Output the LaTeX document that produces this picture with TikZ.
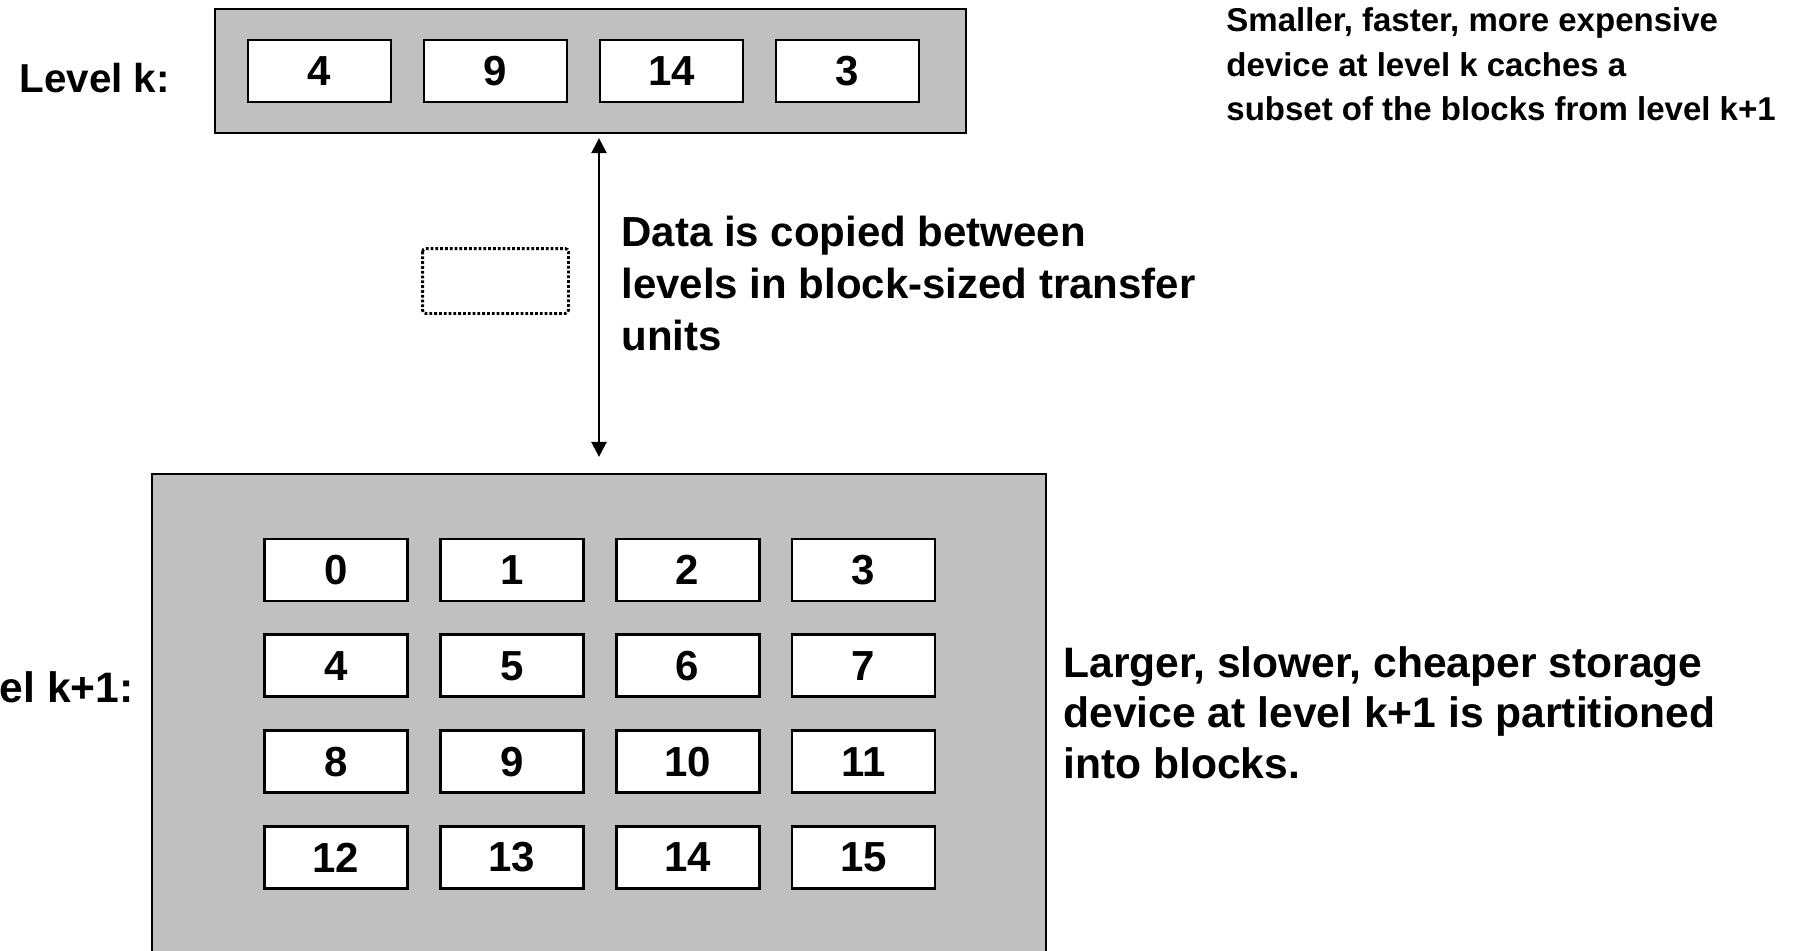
\documentclass[tikz,border=0pt]{standalone}
\usepackage{fontspec}
\setmainfont{Liberation Sans}
\usepackage{tikz}
\usetikzlibrary{arrows.meta,calc}
\definecolor{devgray}{RGB}{192,192,192}

\begin{document}
\begin{tikzpicture}[x=0.5pt, y=-0.5pt,
    blk/.style={draw, line width=1.4pt, fill=white, minimum width=71.5pt, minimum height=31pt, inner sep=0pt, font=\fontsize{21}{25}\selectfont\bfseries},
    dev/.style={draw, line width=1.1pt, fill=devgray, inner sep=0pt},
    lbl/.style={inner sep=0pt, font=\fontsize{21.3}{25.2}\selectfont\bfseries},
    >={Triangle[length=7.5pt,width=7.5pt]}]
  \useasboundingbox (0,0) rectangle (1794,950);
  \pgfmathsetmacro{\kpitch}{176}
  \pgfmathsetmacro{\xpitch}{175.8}
  \pgfmathsetmacro{\ypitch}{95.8}

      \node[dev, minimum width=375.5pt, minimum height=62pt] (levk) at (590.5,71) {};
      \node[dev, minimum width=447pt, minimum height=263pt] (levkone) at (599,737) {};

  \foreach \v [count=\i from 0] in {4,9,14,3}{
      \node[blk] (k\i) at ({319.5+\i*\kpitch},71) {\v};
    };

  \foreach \r in {0,...,3}{
      \foreach \c in {0,...,3}{
        \pgfmathtruncatemacro{\n}{4*\r+\c}
        \node[blk] (kone\n) at ({336+\c*\xpitch},{570+\r*\ypitch}) {\n};
      };
    };

      \node[blk, draw=none, fill=none] (xferblk) at (495.5,281) {};
      \draw[line width=1.4pt, dash pattern=on 1.4pt off 1pt, rounded corners=1.5pt]
        (xferblk.north west) rectangle (xferblk.south east);

      \draw[<->, line width=1.2pt, shorten <=2pt, shorten >=8pt] (levkone.north |- levk.south) -- (levkone.north);

      \node[lbl, anchor=base west, font=\fontsize{20.2}{25}\selectfont\bfseries] (lvlk) at (19,92) {Level k:};
      \node[lbl, anchor=base east] (lvlkone) at (134,702) {Level k+1:};
      \node[lbl, anchor=north west, align=left, font=\fontsize{21}{26}\selectfont\bfseries] (xfertxt) at (621,216)
        {Data is copied between\\levels in block-sized transfer\\units};
      \node[lbl, anchor=north west, align=left, font=\fontsize{16.5}{22.4}\selectfont\bfseries] (kdesc) at (1226,7)
        {Smaller, faster, more expensive\\device at level k caches a\\subset of the blocks from level k+1};
      \node[lbl, anchor=north west, align=left] (konedesc) at (1063,646)
        {Larger, slower, cheaper storage\\device at level k+1 is partitioned\\into blocks.};
  \end{tikzpicture}
\end{document}
